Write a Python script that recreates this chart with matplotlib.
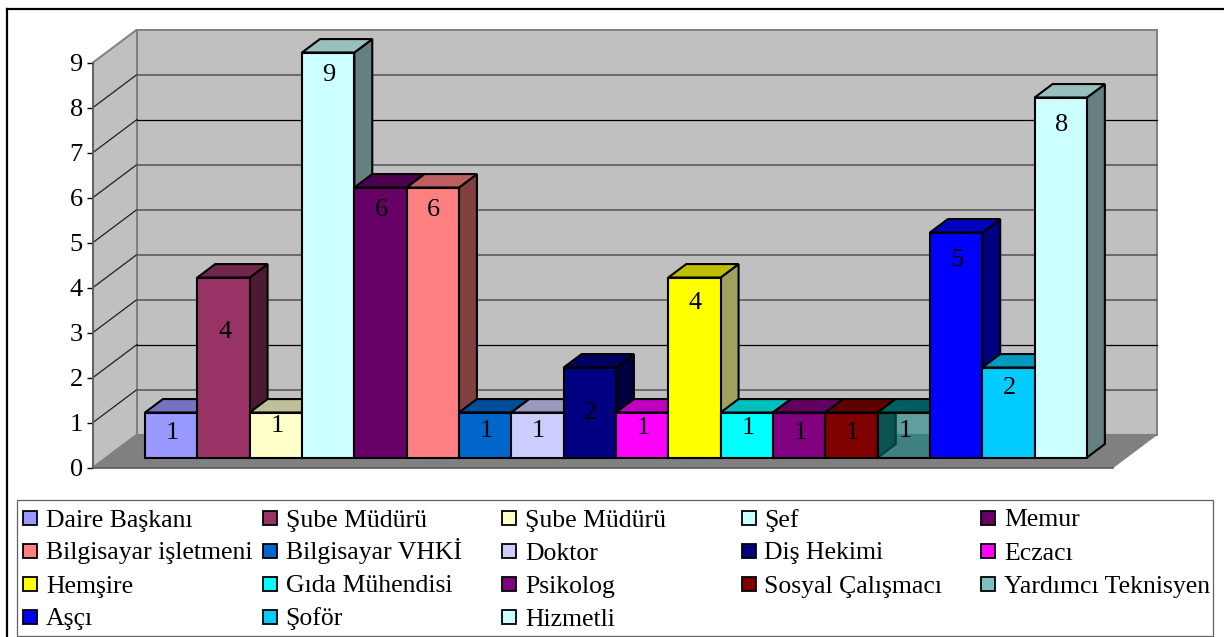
import matplotlib
matplotlib.use("Agg")
import matplotlib.pyplot as plt
from matplotlib.patches import Polygon, Rectangle
from matplotlib.colors import to_rgb

plt.rcParams['font.family'] = ['Liberation Serif', 'DejaVu Serif']

# datos de la grafica
names = ["Daire Başkanı", "Şube Müdürü", "Şube Müdürü", "Şef", "Memur",
         "Bilgisayar işletmeni", "Bilgisayar VHKİ", "Doktor", "Diş Hekimi", "Eczacı",
         "Hemşire", "Gıda Mühendisi", "Psikolog", "Sosyal Çalışmacı", "Yardımcı Teknisyen",
         "Aşçı", "Şoför", "Hizmetli"]
values = [1, 4, 1, 9, 6, 6, 1, 1, 2, 1, 4, 1, 1, 1, 1, 5, 2, 8]
colors = ["#9999FF", "#993366", "#FFFFCC", "#CCFFFF", "#660066", "#FF8080",
          "#0066CC", "#CCCCFF", "#000080", "#FF00FF", "#FFFF00", "#00FFFF",
          "#800080", "#800000", "#008080", "#0000FF", "#00CCFF", "#CCFFFF"]
see_through = ["Yardımcı Teknisyen"]
y_ticks = [0, 1, 2, 3, 4, 5, 6, 7, 8, 9]
# altura donde cae cada etiqueta, no sigue una regla fija en el original
label_at = [0.54, 2.80, 0.70, 8.50, 5.50, 5.50, 0.58, 0.60, 1.00,
            0.65, 3.43, 0.65, 0.54, 0.54, 0.60, 4.38, 1.54, 7.40]
# lineas de la pared del fondo, algunas se ven negras y otras grises
black_grid = [7, 2]

W, H = 1224, 637
BAR_W = 52.33
FS = 19
FS_LEG = 18.5

fig = plt.figure(figsize=(W / 100, H / 100), dpi=100)

# capa de fondo en pixeles: marco y leyenda
bg = fig.add_axes([0, 0, 1, 1])
bg.set_xlim(0, W)
bg.set_ylim(H, 0)
bg.axis("off")
bg.plot([7, 7], [H, 9], color="black", lw=1.6)
bg.plot([7, W], [9, 9], color="black", lw=1.6)
bg.add_patch(Rectangle((17, 500), 1196, 136, fc="white", ec="#606060", lw=0.9))

# ejes del grafico, la cara frontal va de x=93 a 1113 y de y=467.5 a 62.5
ax = fig.add_axes([93 / W, 1 - 467.5 / H, 1020 / W, 405 / H])
ax.patch.set_visible(False)
x0, x1 = -(145 - 13.3 - 93) / BAR_W, -(145 - 13.3 - 93) / BAR_W + 1020 / BAR_W
ax.set_xlim(x0, x1)
ax.set_ylim(0, 9)
DX = 44 / BAR_W   # profundidad en unidades de categoria
DY = 33 / 45      # profundidad en unidades de valor
D_FRONT, D_BACK = 0.303, 0.71


def P(x, v, d):
    return (x + d * DX, v + d * DY)


def shade(c, k):
    r, g, b = to_rgb(c)
    return (r * k, g * k, b * k)


def poly(pts, fc, alpha=None, ec="black", lw=1.5, z=2):
    if alpha is not None:
        fc = fc + (alpha,)
    ax.add_patch(Polygon(pts, closed=True, fc=fc, ec=ec, lw=lw, clip_on=False,
                         zorder=z, joinstyle="miter"))


# paredes y piso
WALL = "#C0C0C0"
EDGE = "#808080"
poly([P(x0, 0, 1), P(x1, 0, 1), P(x1, 9, 1), P(x0, 9, 1)], to_rgb(WALL), ec=EDGE, lw=1.4, z=1)
poly([P(x0, 0, 0), P(x0, 0, 1), P(x0, 9, 1), P(x0, 9, 0)], to_rgb(WALL), ec=EDGE, lw=1.4, z=1)
poly([P(x0, 0, 0), P(x1, 0, 0), P(x1, 0, 1), P(x0, 0, 1)], to_rgb(EDGE), ec=EDGE, lw=0.8, z=1)
for v in y_ticks[1:-1]:
    a, b, c = P(x0, v, 0), P(x0, v, 1), P(x1, v, 1)
    ax.plot([a[0], b[0]], [a[1], b[1]], color="#202020", lw=0.9, zorder=1.5, clip_on=False)
    if v in black_grid:
        ax.plot([b[0], c[0]], [b[1], c[1]], color="black", lw=0.9, zorder=1.5, clip_on=False)
    else:
        ax.plot([b[0], c[0]], [b[1], c[1]], color="#5A5A5A", lw=1.2, zorder=1.5, clip_on=False)

# barras de izquierda a derecha, la siguiente tapa el lado de la anterior
for i, (name, v, col) in enumerate(zip(names, values, colors)):
    l, r = i, i + 1
    if name in see_through:
        rgb = to_rgb(col)
        poly([P(l, 0, D_FRONT), P(l, 0, D_BACK), P(l, v, D_BACK), P(l, v, D_FRONT)],
             shade(col, 0.5), alpha=0.6, z=3)
        poly([P(l, v, D_FRONT), P(r, v, D_FRONT), P(r, v, D_BACK), P(l, v, D_BACK)],
             shade(col, 0.75), z=3)
        poly([P(l, 0, D_FRONT), P(r, 0, D_FRONT), P(r, v, D_FRONT), P(l, v, D_FRONT)],
             rgb, alpha=0.5, z=3)
    else:
        # el lado del amarillo se ve apagado en el original
        side = to_rgb("#A0A060") if col == "#FFFF00" else shade(col, 0.5)
        poly([P(r, 0, D_FRONT), P(r, 0, D_BACK), P(r, v, D_BACK), P(r, v, D_FRONT)],
             side, z=3)
        poly([P(l, v, D_FRONT), P(r, v, D_FRONT), P(r, v, D_BACK), P(l, v, D_BACK)],
             shade(col, 0.75), z=3)
        poly([P(l, 0, D_FRONT), P(r, 0, D_FRONT), P(r, v, D_FRONT), P(l, v, D_FRONT)],
             to_rgb(col), z=3)
    cx, cy = P(i + 0.52, label_at[i], D_FRONT)
    ax.text(cx, cy, str(v), ha="center", va="center", fontsize=FS, color="black", zorder=4)

# eje y
for s in ["top", "right"]:
    ax.spines[s].set_visible(False)
ax.spines["left"].set_color("#606060")
ax.spines["left"].set_linewidth(1.3)
ax.spines["bottom"].set_color("#505050")
ax.spines["bottom"].set_linewidth(1.1)
ax.set_xticks([])
ax.set_yticks(y_ticks)
ax.tick_params(axis="y", length=4.3, width=1, color="black", pad=3, labelsize=FS)

# leyenda
for i, (name, col) in enumerate(zip(names, colors)):
    row, c = divmod(i, 5)
    sx = 23 + 239.5 * c
    sy = 518 + 33 * row
    rgb = to_rgb(col)
    fc = rgb + (0.5,) if name in see_through else rgb
    bg.add_patch(Rectangle((sx, sy - 7), 14, 14, fc=fc, ec="black", lw=1.3))
    bg.text(sx + 23, sy + 8.5, name, ha="left", va="baseline", fontsize=FS_LEG, color="black")

fig.savefig("out.png", dpi=100, facecolor="white")
